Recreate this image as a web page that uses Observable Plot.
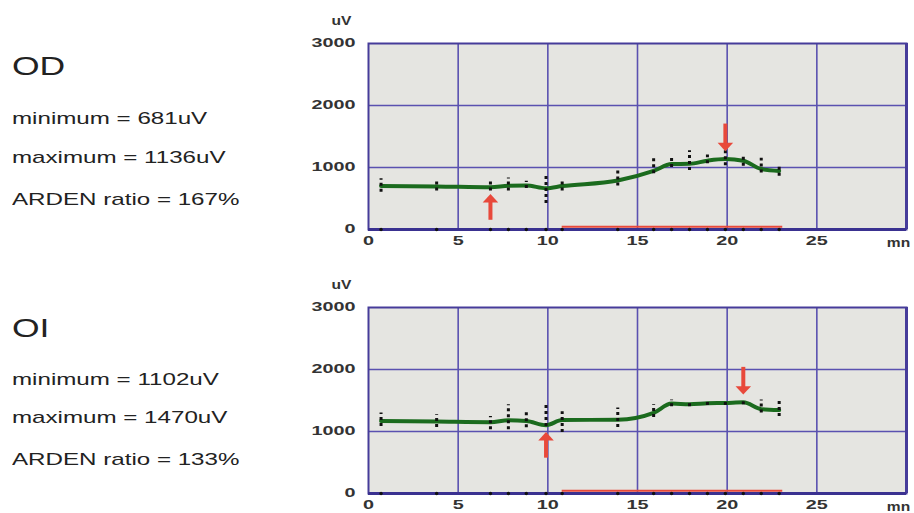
<!DOCTYPE html>
<html>
<head>
<meta charset="utf-8">
<script src="https://cdn.jsdelivr.net/npm/d3@7"></script>
<script src="https://cdn.jsdelivr.net/npm/@observablehq/plot@0.6"></script>
<style>
  html, body { margin: 0; padding: 0; background: #fff; }
  #page { position: relative; width: 914px; height: 513px; overflow: hidden; font-family: "Liberation Sans", Arial, sans-serif; color: #222; }
  .chart { position: absolute; left: 0; }
  .lbl { position: absolute; left: 12px; white-space: nowrap; line-height: 1; transform: scaleX(1.42); transform-origin: left center; }
  .eye { font-size: 25px; }
  .stat { font-size: 17px; }
</style>
</head>
<body>
<div id="page"></div>
<script>
// ---------- data ----------
const times  = [0.7, 3.8, 6.8, 7.8, 8.8, 9.9, 10.8, 13.9, 15.9, 16.9, 17.9, 18.9, 19.9, 20.9, 21.9, 22.9];

const odMean = [700, 695, 681, 705, 710, 665, 700, 790, 945, 1055, 1060, 1110, 1136, 1110, 975, 945];
const odLo   = [600, 620, 620, 620, 660, 420, 620, 700, 900, 1000, 950, 1060, 1030, 1020, 910, 860];
const odHi   = [820, 790, 780, 830, 780, 870, 790, 950, 1160, 1150, 1270, 1200, 1270, 1180, 1150, 1050];

const oiMean = [1170, 1160, 1150, 1180, 1170, 1102, 1185, 1190, 1300, 1450, 1440, 1455, 1460, 1470, 1360, 1345];
const oiLo   = [1080, 1065, 1030, 1030, 1060, 1080, 985, 1065, 1225, 1400, 1400, 1420, 1420, 1430, 1300, 1240];
const oiHi   = [1300, 1270, 1240, 1430, 1320, 1430, 1320, 1380, 1430, 1510, 1480, 1490, 1500, 1500, 1510, 1510];

const odArrowTimes = [6.8, 19.9];   // [minimum, maximum]
const oiArrowTimes = [9.9, 20.9];

const lightOn = [10.8, 23.1];        // red bar along the baseline (minutes)

const xTicks = [0, 5, 10, 15, 20, 25];
const yTicks = [0, 1000, 2000, 3000];
const xUnit = "mn";
const yUnit = "uV";

const eyeNames  = ["OD", "OI"];
const minimums  = [681, 1102];
const maximums  = [1136, 1470];
const ratios    = [167, 133];

// ---------- styling ----------
const GRID = "#5a51b0", FRAME = "#463c9a", AXIS = "#3a3190";
const BG = "#e5e5e1", GREEN = "#1b6b1e", RED = "#e8493b";
const W = 914, H = 252, MT = 43, MB = 23, ML = 368, MR = 8;
const K = 3000 / (H - MT - MB);      // uV per pixel
const BASE_Y = 45;                   // red bar height above zero

const wideTriangle = {
  draw(ctx, size) {
    const s = Math.sqrt(size);
    const w = 1.75 * s, h = 0.95 * s;
    ctx.moveTo(0, -h / 2);
    ctx.lineTo(w / 2, h / 2);
    ctx.lineTo(-w / 2, h / 2);
    ctx.closePath();
  }
};

function chart(mean, lo, hi, arrowTimes) {
  const rows = times.map((t, i) => ({t, v: mean[i], lo: lo[i], hi: hi[i]}));
  const minRow = rows.find(d => d.t === arrowTimes[0]);
  const maxRow = rows.find(d => d.t === arrowTimes[1]);
  return Plot.plot({
    width: W, height: H,
    marginTop: MT, marginBottom: MB, marginLeft: ML, marginRight: MR,
    style: {fontFamily: "Liberation Sans, Arial, sans-serif", fontSize: "12px", fontWeight: "bold", color: "#333", background: "transparent"},
    x: {domain: [0, 30], ticks: xTicks, tickSize: 0, tickPadding: 7, tickFormat: d => String(d), label: null},
    y: {domain: [0, 3000], ticks: yTicks, tickSize: 0, tickPadding: 13, tickFormat: d => String(d), label: null},
    marks: [
      Plot.frame({fill: BG}),
      Plot.ruleX(xTicks.filter(d => d > 0), {stroke: GRID, strokeWidth: 1.6}),
      Plot.ruleY(yTicks.filter(d => d > 0 && d < 3000), {stroke: GRID, strokeWidth: 1.6}),
      Plot.frame({stroke: FRAME, strokeWidth: 2}),
      Plot.ruleX([30], {stroke: FRAME, strokeWidth: 3}),
      Plot.ruleY([0], {stroke: AXIS, strokeWidth: 3}),
      Plot.ruleY([BASE_Y], {x1: lightOn[0], x2: lightOn[1], stroke: RED, strokeWidth: 2}),
      Plot.dot(times, {x: d => d, y: 0, r: 1.7, fill: "#111"}),
      Plot.line(rows, {x: "t", y: "v", stroke: GREEN, strokeWidth: 4, curve: "monotone-x", strokeLinejoin: "round", strokeLinecap: "round"}),
      Plot.ruleX(rows, {x: "t", y1: "lo", y2: "hi", stroke: "#111", strokeWidth: 3, strokeDasharray: "3,3"}),
      // minimum arrow (pointing up, below the curve)
      Plot.ruleX([minRow], {x: "t", y1: d => d.v - 12 * K, y2: d => d.v - 33 * K, stroke: RED, strokeWidth: 4}),
      Plot.dot([minRow], {x: "t", y: d => d.v - 11 * K, symbol: wideTriangle, r: 5, fill: RED}),
      // maximum arrow (pointing down, above the curve)
      Plot.ruleX([maxRow], {x: "t", y1: d => d.v + 13 * K, y2: d => d.v + 35 * K, stroke: RED, strokeWidth: 4}),
      Plot.dot([maxRow], {x: "t", y: d => d.v + 12 * K, symbol: wideTriangle, r: 5, fill: RED, rotate: 180}),
      Plot.text([yUnit], {text: d => d, frameAnchor: "top-left", dx: -27, dy: -22, textAnchor: "middle", lineAnchor: "middle", className: "unit"}),
      Plot.text([xUnit], {text: d => d, frameAnchor: "bottom-right", dx: -8, dy: 14, textAnchor: "middle", lineAnchor: "middle", className: "unit"})
    ]
  });
}

function stretch(svg) {
  svg.querySelectorAll("text").forEach(t => {
    const isUnit = t.closest(".unit") != null;
    const s = isUnit ? 1.3 : 1.65;
    const tr = t.getAttribute("transform") || "";
    const x = t.getAttribute("x");
    if (x != null && +x) t.setAttribute("x", +x / s);
    t.setAttribute("transform", tr + ` scale(${s},1)`);
  });
}

const page = document.getElementById("page");
const specs = [
  {top: 0, mean: odMean, lo: odLo, hi: odHi, arrows: odArrowTimes},
  {top: 264, mean: oiMean, lo: oiLo, hi: oiHi, arrows: oiArrowTimes}
];
const textTops = [[53.8, 109.6, 148.6, 190.6], [315.8, 370.6, 408.6, 450.6]];

specs.forEach((s, i) => {
  const svg = chart(s.mean, s.lo, s.hi, s.arrows);
  stretch(svg);
  const wrap = document.createElement("div");
  wrap.className = "chart";
  wrap.style.top = s.top + "px";
  wrap.appendChild(svg);
  page.appendChild(wrap);

  const lines = [
    [eyeNames[i], "eye"],
    [`minimum = ${minimums[i]}uV`, "stat"],
    [`maximum = ${maximums[i]}uV`, "stat"],
    [`ARDEN ratio = ${ratios[i]}%`, "stat"]
  ];
  lines.forEach(([txt, cls], j) => {
    const d = document.createElement("div");
    d.className = "lbl " + cls;
    d.style.top = textTops[i][j] + "px";
    d.textContent = txt;
    page.appendChild(d);
  });
});
</script>
</body>
</html>
